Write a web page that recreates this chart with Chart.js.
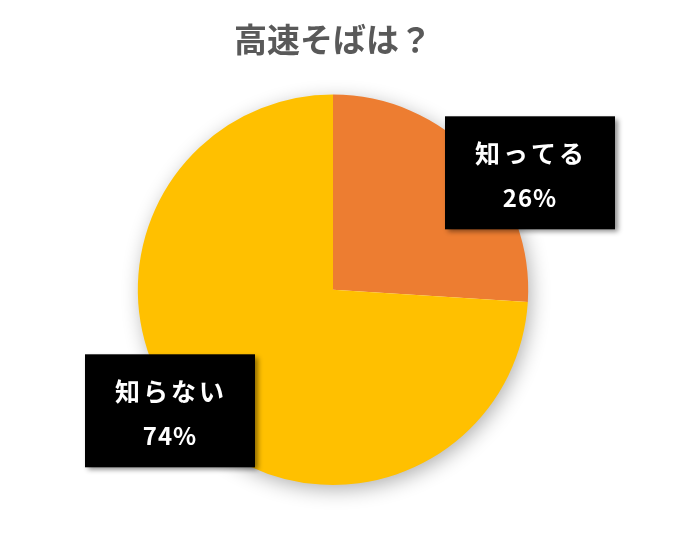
<!DOCTYPE html>
<html>
<head>
<meta charset="utf-8">
<script src="https://cdn.jsdelivr.net/npm/chart.js@4/dist/chart.umd.min.js"></script>
<style>
  html, body { margin: 0; padding: 0; background: #fff; }
  #pie { display: block; }
</style>
</head>
<body>
<canvas id="pie" width="681" height="536"></canvas>
<script>
var chartTitle = '高速そばは？';
var answerLabels = ['知ってる', '知らない'];
var answerValues = [26, 74];
var sliceColors = ['#ED7D31', '#FFC000'];

var jpFont = '"Noto Sans CJK JP", "Noto Sans", sans-serif';

// soft grey shadow behind the whole pie
var pieShadow = {
    id: 'pieShadow',
    beforeDatasetsDraw: function (chart) {
        var arc = chart.getDatasetMeta(0).data[0];
        if (!arc) return;
        var ctx = chart.ctx;
        ctx.save();
        ctx.shadowColor = 'rgba(0, 0, 0, 0.32)';
        ctx.shadowBlur = 20;
        ctx.shadowOffsetX = 3;
        ctx.shadowOffsetY = 5;
        ctx.fillStyle = '#ffffff';
        ctx.beginPath();
        ctx.arc(arc.x, arc.y, arc.outerRadius - 1, 0, Math.PI * 2);
        ctx.fill();
        ctx.restore();
    }
};

// black callout boxes with label + percent
var calloutBoxes = {
    id: 'calloutBoxes',
    afterDatasetsDraw: function (chart, args, opts) {
        var ctx = chart.ctx;
        var meta = chart.getDatasetMeta(0);
        var total = answerValues.reduce(function (a, b) { return a + b; }, 0);
        meta.data.forEach(function (arc, i) {
            var off = opts.offsets[i];
            var cx = arc.x + off[0], cy = arc.y + off[1];
            var w = opts.width, h = opts.height;
            ctx.save();
            ctx.shadowColor = 'rgba(0, 0, 0, 0.45)';
            ctx.shadowBlur = 5;
            ctx.shadowOffsetX = 3;
            ctx.shadowOffsetY = 3;
            ctx.fillStyle = '#000000';
            ctx.fillRect(cx - w / 2, cy - h / 2, w, h);
            ctx.restore();

            ctx.save();
            ctx.fillStyle = '#ffffff';
            ctx.textAlign = 'center';
            ctx.textBaseline = 'middle';
            ctx.letterSpacing = '3px';
            ctx.font = 'bold 25px ' + jpFont;
            ctx.fillText(answerLabels[i], cx + 1, cy - 19);
            ctx.letterSpacing = '1px';
            ctx.font = 'bold 24px ' + jpFont;
            var pct = Math.round(answerValues[i] / total * 100) + '%';
            ctx.fillText(pct, cx, cy + 25);
            ctx.restore();
        });
    }
};

var pieChart = new Chart(document.getElementById('pie'), {
    type: 'pie',
    data: {
        labels: answerLabels,
        datasets: [{
            data: answerValues,
            backgroundColor: sliceColors,
            borderWidth: 0,
            hoverOffset: 0
        }]
    },
    options: {
        responsive: false,
        animation: false,
        layout: {
            padding: { top: 0, bottom: 51, left: 0, right: 15 }
        },
        plugins: {
            legend: { display: false },
            tooltip: { enabled: false },
            title: {
                display: true,
                text: chartTitle,
                color: '#595959',
                font: { family: jpFont, size: 33, weight: 'bold', lineHeight: 1.2 },
                padding: { top: 20, bottom: 35 }
            },
            calloutBoxes: {
                width: 170,
                height: 113,
                offsets: [[197, -117], [-163, 121]]
            }
        }
    },
    plugins: [pieShadow, calloutBoxes]
});
</script>
</body>
</html>
